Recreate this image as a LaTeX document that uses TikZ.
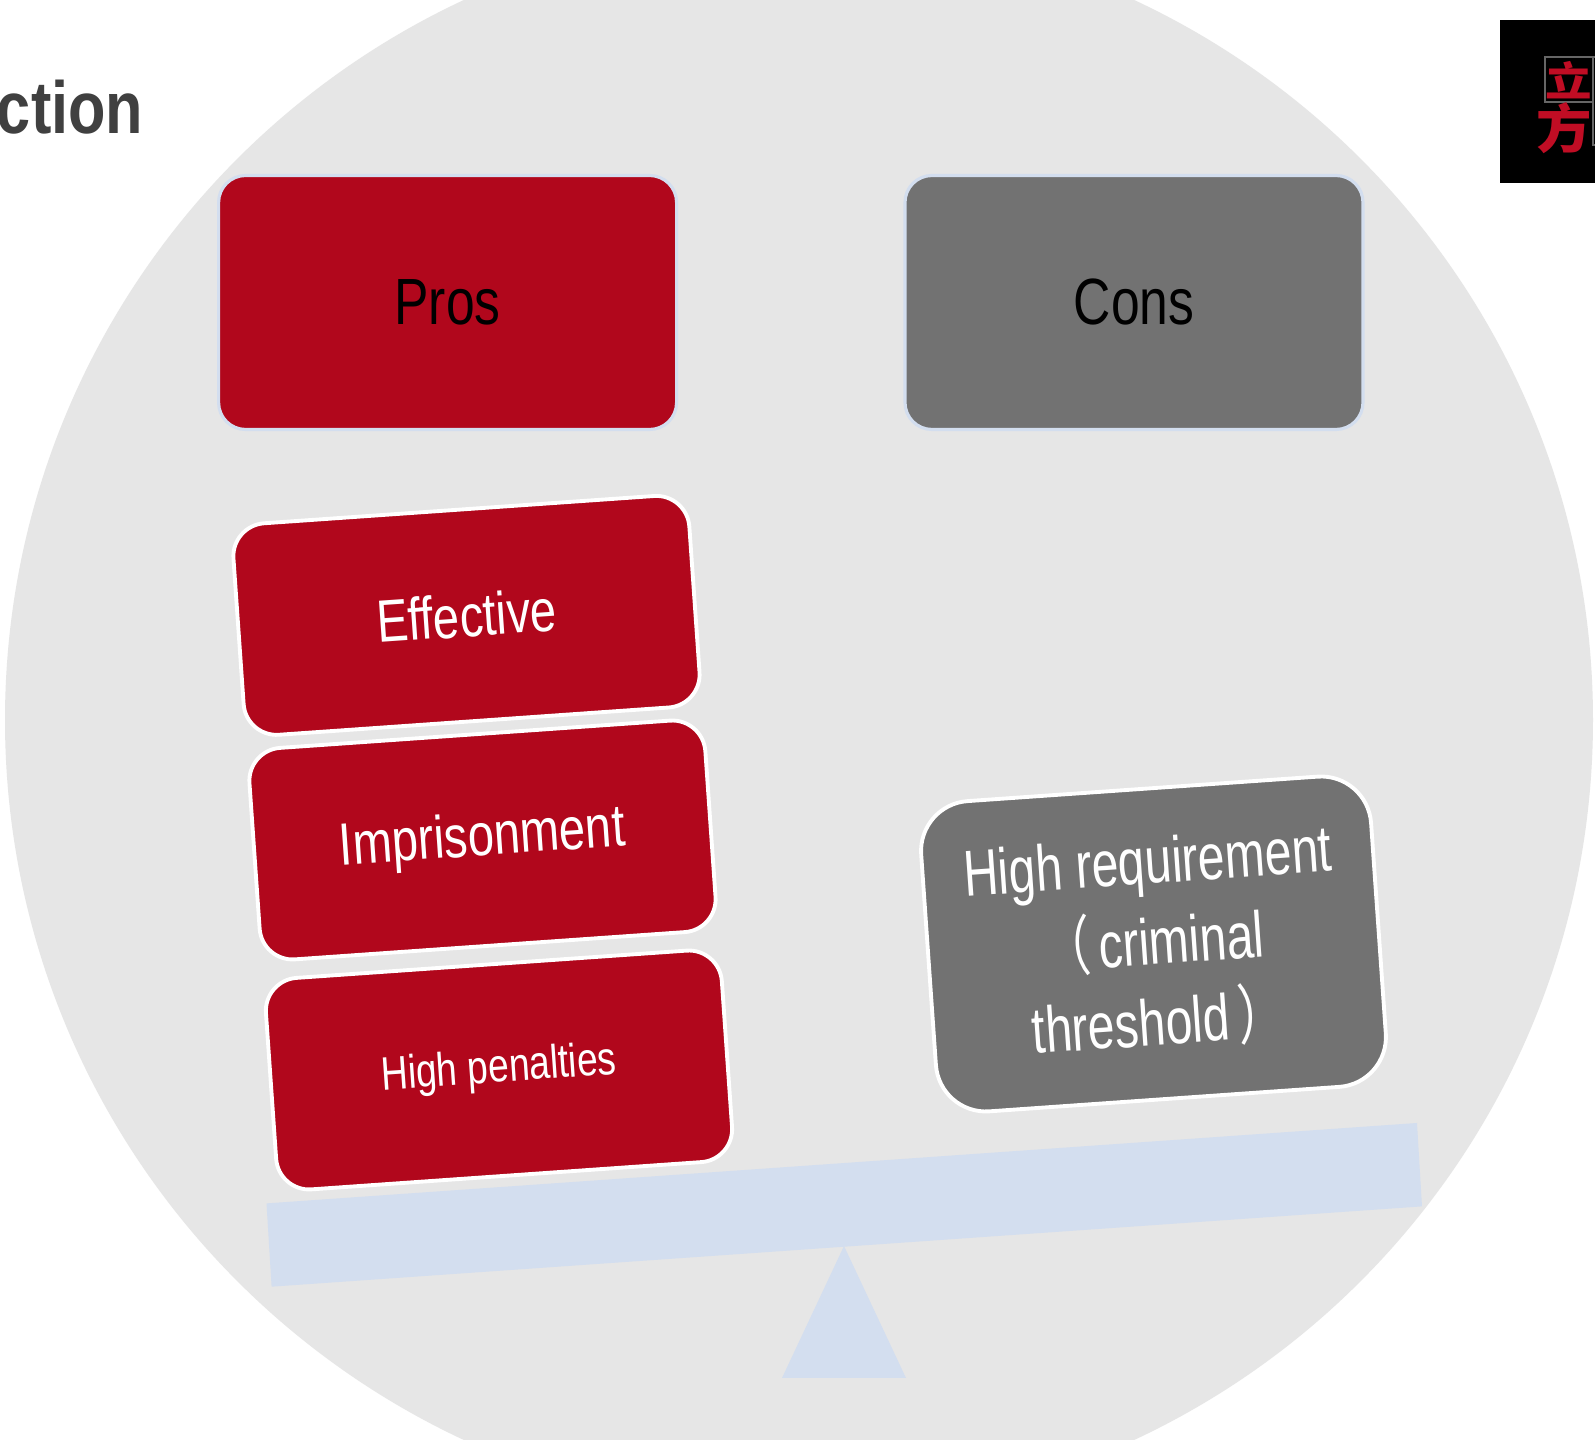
\documentclass[tikz,border=0pt]{standalone}
\usepackage{fontspec}
\usepackage{graphicx}
\setmainfont{Liberation Sans}
\newfontfamily\cjkfont{Noto Sans CJK SC}
\definecolor{plate}{RGB}{230,230,230}
\definecolor{prored}{RGB}{177,7,28}
\definecolor{logored}{RGB}{192,13,36}
\definecolor{congrey}{RGB}{114,114,114}
\definecolor{beamblue}{RGB}{211,222,239}
\def\narrowtext#1{\scalebox{0.79}[1]{#1}}
\def\lowtext#1{\raisebox{-1.1pt}{\narrowtext{#1}}}
\def\slimtext#1{\scalebox{0.74}[1]{#1}}
\tikzset{
	headbox/.style={rounded corners=0.27cm, draw=beamblue, line width=0.9pt, minimum width=4.58cm, minimum height=2.54cm, inner sep=0pt, text=black, font=\fontsize{18.6}{22}\selectfont},
	tiltbox/.style={rounded corners=0.33cm, draw=white, line width=1.1pt, rotate=4, minimum width=4.57cm, minimum height=2.12cm, inner sep=0pt, text=white, font=\fontsize{17}{21}\selectfont}
}

\begin{document}
\begin{tikzpicture}
			%%%%% START %%%%%
			
			\useasboundingbox (0, 0) rectangle (15.95, 14.4);
			\clip (0, 0) rectangle (15.95, 14.4);
			\fill[white] (0, 0) rectangle (15.95, 14.4);
			
			\fill[plate] (7.99, 7.2) circle (7.94);
			
			\node[anchor=base east, inner sep=0pt, text=black!75, font=\fontsize{21}{26}\selectfont\bfseries] (title) at (1.44, 13.06) {\scalebox{0.83}[1]{ction}};
			
			\fill[black] (15, 12.57) rectangle (15.95, 14.2);
			\draw[line width=0.55pt, color=black!60] (15.45, 13.38) rectangle (15.93, 13.83);
			\draw[line width=0.55pt, color=black!60] (16.2, 12.95) -- (15.93, 12.95) -- (15.93, 13.83) -- (16.2, 13.83);
			\node[inner sep=0pt, text=logored, font=\fontsize{11.5}{12}\selectfont\cjkfont\bfseries] (logotop) at (15.69, 13.6) {\scalebox{1.15}[1]{立}};
			\node[inner sep=0pt, text=logored, font=\fontsize{15}{16}\selectfont\cjkfont\bfseries] (logobottom) at (15.64, 13.12) {\scalebox{1.05}[1]{方}};
			
			\fill[beamblue] (2.665, 2.366) -- (14.17, 3.17) -- (14.22, 2.336) -- (2.716, 1.533) -- cycle;
			\fill[beamblue] (8.44, 1.94) -- (7.82, 0.62) -- (9.06, 0.62) -- cycle;
			
			\node[headbox, fill=prored] (pros) at (4.476, 11.375) {\narrowtext{Pros}};
			\node[headbox, fill=congrey] (cons) at (11.34, 11.375) {\narrowtext{Cons}};
			
			\node[tiltbox, fill=prored] (effective) at (4.665, 8.246) {\narrowtext{Effective}};
			\node[tiltbox, fill=prored] (imprisonment) at (4.825, 6) {\lowtext{Imprisonment}};
			\node[tiltbox, fill=prored, font=\fontsize{13.4}{16}\selectfont] (penalties) at (4.99, 3.7) {\lowtext{High penalties}};
			\node[tiltbox, fill=congrey, rounded corners=0.5cm, minimum width=4.51cm, minimum height=3.11cm, align=center, font=\fontsize{18.5}{23}\selectfont] (requirement) at (11.535, 4.96) {\raisebox{-0.8pt}{\slimtext{High requirement}}\\\raisebox{-0.8pt}{\slimtext{{\cjkfont （}\,criminal}}\\\raisebox{-0.8pt}{\slimtext{threshold\,{\cjkfont ）}}}};
			
			%%%%% END %%%%%
		\end{tikzpicture}
\end{document}
